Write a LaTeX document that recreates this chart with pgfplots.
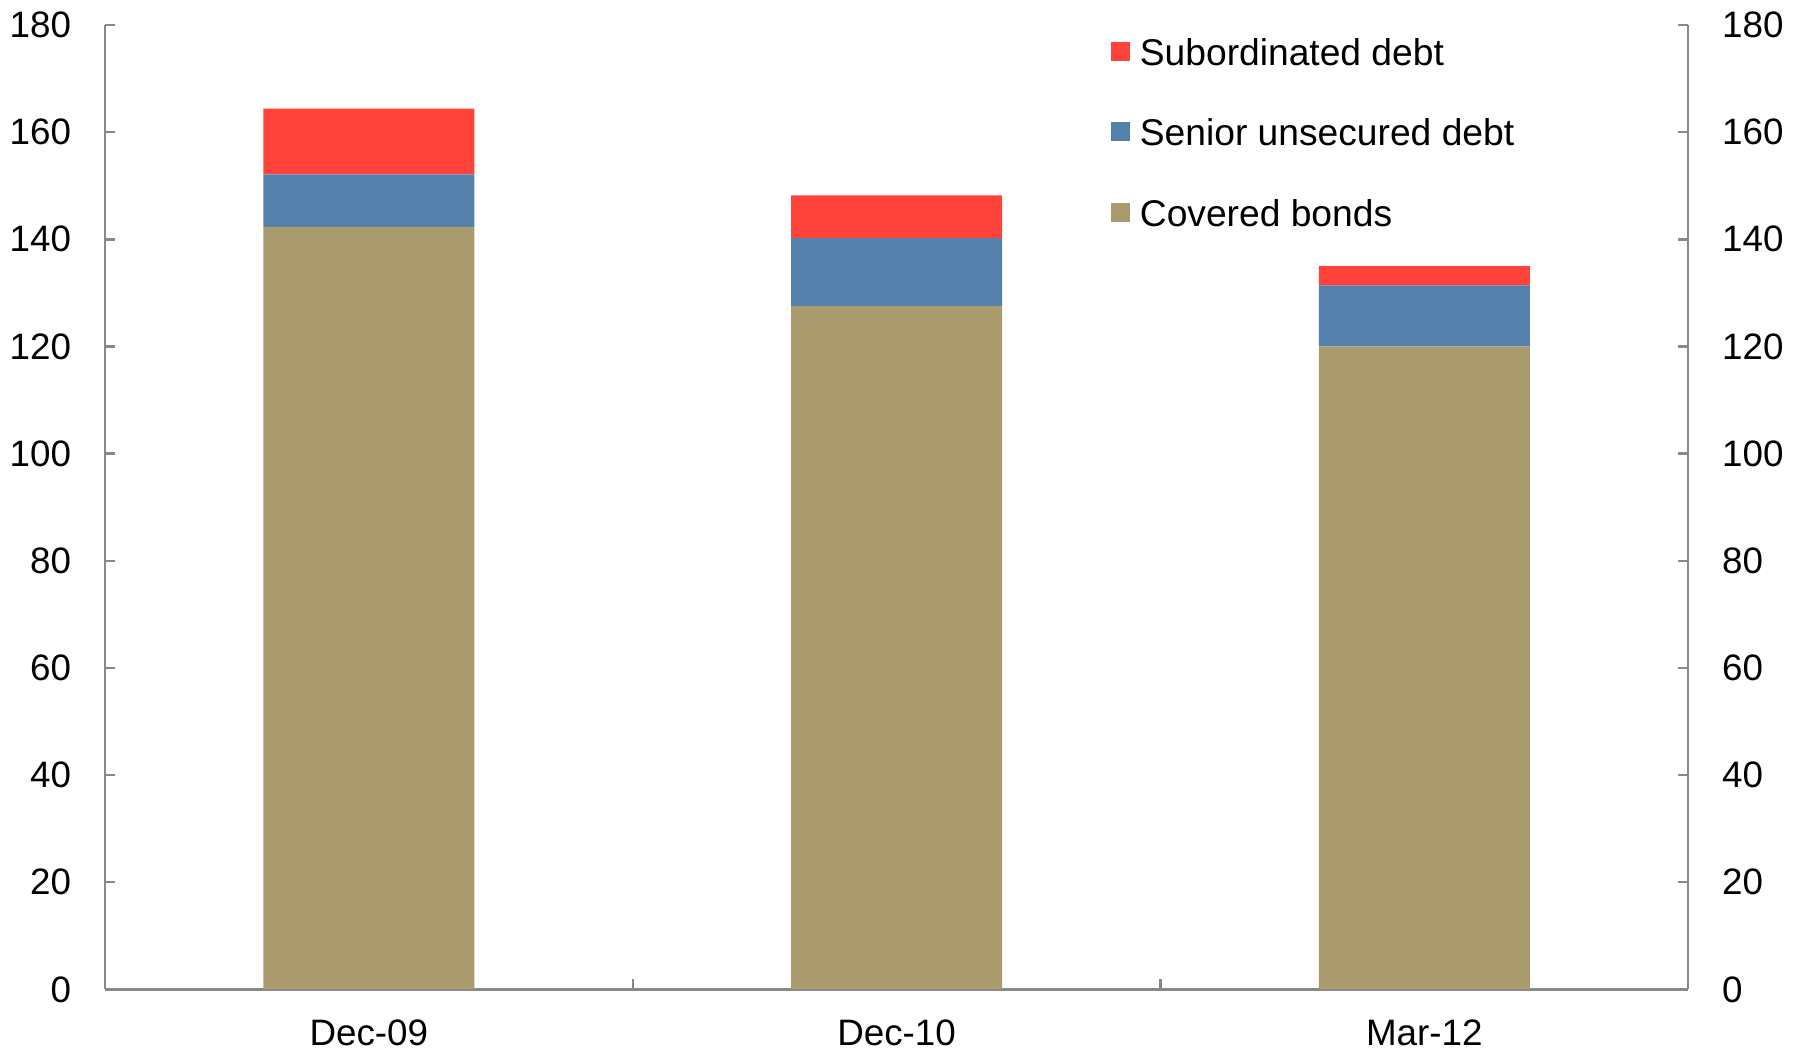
\documentclass[border=0pt]{standalone}
\usepackage{pgfplots}
\pgfplotsset{compat=1.18}
\usepackage{fontspec}
\setmainfont{Liberation Sans}
\definecolor{subred}{RGB}{255,67,58}
\definecolor{senblue}{RGB}{83,129,172}
\definecolor{covtan}{RGB}{170,155,111}
\definecolor{axgray}{RGB}{136,136,136}
\begin{document}
\begin{tikzpicture}
\pgfplotsset{
  myax/.style={
    scale only axis, width=395.8pt, height=241.1pt,
    at={(0,0)}, anchor=south west,
    xmin=-0.5, xmax=2.5, ymin=0, ymax=180,
    ytick={0,20,...,180},
    tick align=inside, major tick length=2.5pt,
    axis line style={draw=axgray, line width=0.6pt},
    every tick/.style={draw=axgray, line width=0.6pt},
    font=\fontsize{9.2}{11}\selectfont,
    /pgf/number format/assume math mode=true,
  }
}
\begin{axis}[myax,
  axis x line*=bottom, axis y line*=left,
  ybar stacked, bar width=0.4,
  xtick={0.5,1.5}, xticklabels={},
  extra x ticks={0,1,2},
  extra x tick labels={Dec-09,Dec-10,Mar-12},
  extra x tick style={major tick length=0pt,
    xticklabel style={anchor=base, yshift=-14pt, inner sep=0pt}},
  yticklabel style={anchor=east, xshift=-8.3pt, inner sep=0pt},
  legend style={draw=none, fill=none, at={(0.635,0.988)}, anchor=north west,
    inner sep=0pt, row sep=13.1pt,
    nodes={inner sep=0pt, text height=7pt, text depth=0pt},
    font=\fontsize{9.3}{11}\selectfont},
  legend cell align=left,
  reverse legend,
  legend image code/.code={\fill[#1] (0pt,-2.35pt) rectangle (4.7pt,2.35pt);},
  ]
\addplot[fill=covtan, draw=none] coordinates {(0,142.3) (1,127.6) (2,120.0)};
\addlegendentry{\hspace{2.5pt}Covered bonds}
\addplot[fill=senblue, draw=none] coordinates {(0,9.8) (1,12.6) (2,11.4)};
\addlegendentry{\hspace{2.5pt}Senior unsecured debt}
\addplot[fill=subred, draw=none] coordinates {(0,12.3) (1,8.0) (2,3.6)};
\addlegendentry{\hspace{2.5pt}Subordinated debt}
\end{axis}
\begin{axis}[myax,
  axis y line*=right, axis x line=none,
  yticklabel style={anchor=west, xshift=8.3pt, inner sep=0pt},
  ]
\end{axis}
\pgfresetboundingbox
\path (-26.25pt,-15.4pt) rectangle (424pt,247.35pt);
\end{tikzpicture}
\end{document}
